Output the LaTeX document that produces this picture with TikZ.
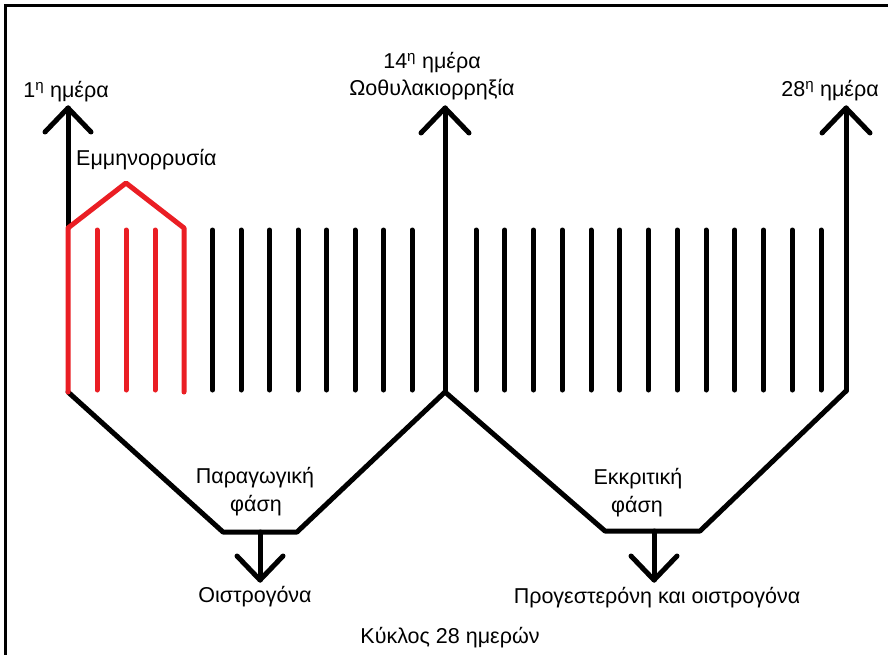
\documentclass[tikz,border=0pt]{standalone}
\usepackage{fontspec}
\setmainfont{Liberation Sans}
\definecolor{menred}{RGB}{234,30,36}
\begin{document}
\begin{tikzpicture}[x=1pt,y=-1pt,
  thick line/.style={line width=5pt,line cap=round,line join=round},
  blk/.style={thick line,black},
  redl/.style={thick line,menred},
  lbl/.style={font=\fontsize{21.5}{26}\selectfont,inner sep=0pt,anchor=base},
  lblw/.style={lbl,anchor=base west}]
\useasboundingbox (0,0) rectangle (888,655);
% frame
\draw[line width=3pt] (5.5,670) -- (5.5,5.5) -- (900,5.5);
% key coordinates
\coordinate (Ltip) at (68,108);
\coordinate (Ltop) at (68,228);
\coordinate (Lbot) at (68,392);
\coordinate (Mtip) at (445,108);
\coordinate (Mbot) at (445,392);
\coordinate (Rtip) at (846,108);
\coordinate (Rbot) at (846,391);
\coordinate (V1a) at (223,532);
\coordinate (V1b) at (297,532);
\coordinate (V2a) at (605,531);
\coordinate (V2b) at (700,531);
\coordinate (D1) at (260,532);
\coordinate (D1tip) at (260,580);
\coordinate (D2) at (654,531);
\coordinate (D2tip) at (654,580);
% up arrows
\draw[blk] (Ltop) -- (Ltip);
\draw[blk] (45,132) -- (Ltip) -- (91,132);
\draw[blk] (Mbot) -- (Mtip);
\draw[blk] (421,133) -- (Mtip) -- (469,133);
\draw[blk] (Rbot) -- (Rtip);
\draw[blk] (822,133) -- (Rtip) -- (870,133);
% bottom zigzag
\draw[blk] (Lbot) -- (V1a) -- (V1b) -- (Mbot) -- (V2a) -- (V2b) -- (Rbot);
% down arrows
\draw[blk] (D1) -- (D1tip);
\draw[blk] (237,556) -- (D1tip) -- (283,556);
\draw[blk] (D2) -- (D2tip);
\draw[blk] (631,556) -- (D2tip) -- (677,556);
% red menstruation part
\draw[redl] (Lbot) -- (Ltop) -- (126,183) -- (184,228) -- (184,392);
\foreach \x in {97,126,155} \draw[redl] (\x,230) -- (\x,390);
% black bars
\foreach \i in {0,...,7} \draw[blk] ({212.5+28.5*\i},230) -- ({212.5+28.5*\i},390);
\foreach \i in {0,...,12} \draw[blk] ({476+28.75*\i},230) -- ({476+28.75*\i},390);
% labels
\node[lbl] (t1) at (66,98) {1\textsuperscript{η} ημέρα};
\node[lblw] (tmen) at (76,166) {Εμμηνορρυσία};
\node[lbl] (t14) at (432,69) {14\textsuperscript{η} ημέρα};
\node[lbl] (tov) at (432,96) {Ωοθυλακιορρηξία};
\node[lbl] (t28) at (830,97) {28\textsuperscript{η} ημέρα};
\node[lbl] (tp1) at (255,483) {Παραγωγική};
\node[lbl] (tp2) at (256,511) {φάση};
\node[lbl] (toi) at (255,602) {Οιστρογόνα};
\node[lbl] (te1) at (638,484) {Εκκριτική};
\node[lbl] (te2) at (637,512) {φάση};
\node[lbl] (tpr) at (657,603) {Προγεστερόνη και οιστρογόνα};
\node[lbl] (tky) at (450,643) {Κύκλος 28 ημερών};
\end{tikzpicture}
\end{document}
